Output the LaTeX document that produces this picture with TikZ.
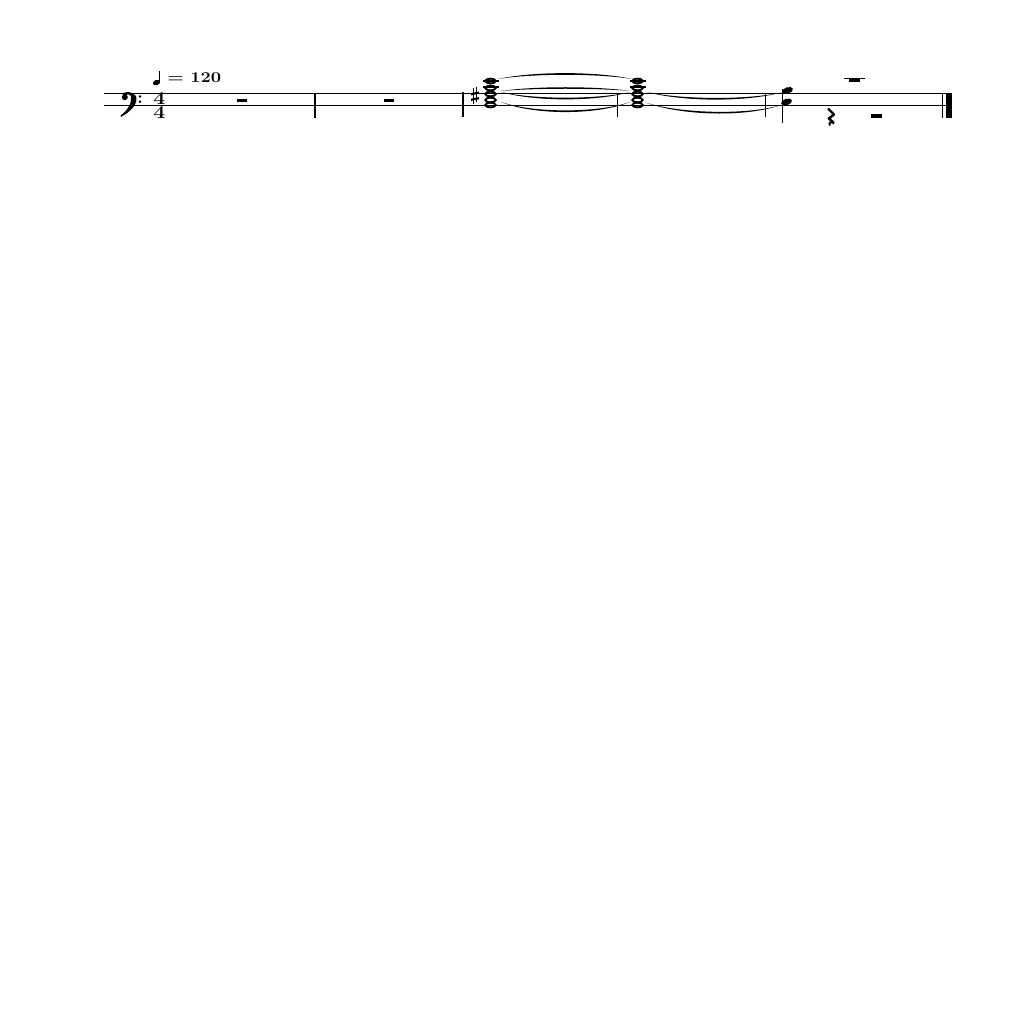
\documentclass[tikz,border=0pt]{standalone}
\begin{document}
\begin{tikzpicture}[x=1pt,y=-1pt,
  staffline/.style={line width=0.9pt},
  thinbar/.style={line width=1pt},
  thickbar/.style={line width=2.6pt},
  wholehead/.style={draw, line width=1.9pt},
  ledger/.style={line width=1.1pt},
  txt/.style={inner sep=0pt, outer sep=0pt}]
\useasboundingbox (0,0) rectangle (1024,1024);
\fill[white] (0,0) rectangle (1024,1024);
% staff
\draw[staffline] (104,93.3) -- (946,93.3);
\draw[staffline] (104,105.8) -- (946,105.8);
% clef
\fill (122.5,95) .. controls (123.5,90.8) and (132,90.8) .. (136,96)
  .. controls (138.5,103.5) and (131,111.5) .. (121,117)
  -- (120.5,115.6) .. controls (128,110) and (132,103) .. (131,96)
  .. controls (130,93.6) and (126.5,93.6) .. (125,95.5) -- cycle;
\fill (124.8,97.2) circle (3pt);
\fill (140,96.5) circle (1.4pt);
\fill (140,101.8) circle (1.4pt);
% time signature
\node[txt, font=\fontsize{17.5}{17.5}\selectfont\bfseries, xscale=1.22, yscale=1.05] (tsa) at (159.5,98.6) {4};
\node[txt, font=\fontsize{17.5}{17.5}\selectfont\bfseries, xscale=1.22, yscale=1.05] (tsb) at (159.5,112.4) {4};
% tempo
\fill[rotate around={20:(156.5,82.6)}] (156.5,82.6) ellipse [x radius=3.8pt, y radius=2.6pt];
\draw[line width=1.1pt] (159.8,82) -- (159.8,71.5);
\node[txt, anchor=base west, xscale=1.22, font=\fontsize{15}{15}\selectfont\bfseries] (tempo) at (167.5,82.3) {= 120};
% barlines
\draw[thickbar] (315,93) -- (315,118);
\draw[thickbar] (463,92) -- (463,117);
\draw[thinbar] (617.5,93) -- (617.5,117.5);
\draw[thinbar] (765.5,93) -- (765.5,117.5);
\draw[thinbar] (942.5,93) -- (942.5,118);
\fill (946,93) rectangle (952,118);
% half rests
\fill (237,99.2) rectangle (246.5,102.4);
\fill (384,99.2) rectangle (393.5,102.4);
% sharp
\draw[line width=1pt] (473,88.5) -- (473,104);
\draw[line width=1pt] (476.5,87) -- (476.5,102.5);
\draw[line width=2.2pt] (471,94.2) -- (479,92.6);
\draw[line width=2.2pt] (471,99.8) -- (479,98.2);
% chord 1
\draw[ledger] (482.5,81) -- (498.5,81);
\draw[ledger] (482.5,87) -- (498.5,87);
\foreach \yy in {81,88,94,100,105} {
  \draw[wholehead] (490.5,\yy) ellipse [x radius=5.2pt, y radius=2.4pt];
}
% chord 2
\draw[ledger] (629.5,81) -- (645.5,81);
\draw[ledger] (629.5,87) -- (645.5,87);
\foreach \yy in {81,88,94,100,105} {
  \draw[wholehead] (637.5,\yy) ellipse [x radius=5.2pt, y radius=2.4pt];
}
% ties chord1 -> chord2
\fill (498,79) .. controls +(35,-7.8) and +(-35,-7.8) .. (632,79)
  .. controls +(-35,-5.6) and +(35,-5.6) .. (498,79);
\fill (501,91) .. controls +(33,-5) and +(-33,-5) .. (630,91)
  .. controls +(-33,-3) and +(33,-3) .. (501,91);
\fill (501,92) .. controls +(33,9.8) and +(-33,9.8) .. (630,92)
  .. controls +(-33,7.6) and +(33,7.6) .. (501,92);
\fill (501,102) .. controls +(33,13.4) and +(-33,13.4) .. (630,102)
  .. controls +(-33,11.2) and +(33,11.2) .. (501,102);
% ties chord2 -> chord3
\fill (647,92) .. controls +(35,9.8) and +(-35,9.8) .. (781,92.5)
  .. controls +(-35,7.6) and +(35,7.6) .. (647,92);
\fill (647,103) .. controls +(35,12.6) and +(-35,12.6) .. (781,105)
  .. controls +(-35,10.4) and +(35,10.4) .. (647,103);
% chord 3
\fill[rotate around={18:(787.5,90.5)}] (787.5,90.5) ellipse [x radius=5.6pt, y radius=3.2pt];
\fill[rotate around={18:(786.5,102)}] (786.5,102) ellipse [x radius=5.6pt, y radius=3.2pt];
\draw[line width=1pt] (782.3,89.5) -- (782.3,123);
% whole rest (upper voice)
\draw[ledger] (844,78.3) -- (865,78.3);
\fill (849,78) rectangle (860,82);
% quarter rest
\draw[line width=2.4pt, line join=round] (828,108.5) -- (834,114.5) -- (828.8,118.5) -- (834,123);
\draw[line width=1.8pt] (834,123.5) .. controls (831,121.5) and (828,122.5) .. (830,125.5);
% half rest (lower voice)
\fill (870.5,114.2) rectangle (882,117.8);
\end{tikzpicture}
\end{document}
